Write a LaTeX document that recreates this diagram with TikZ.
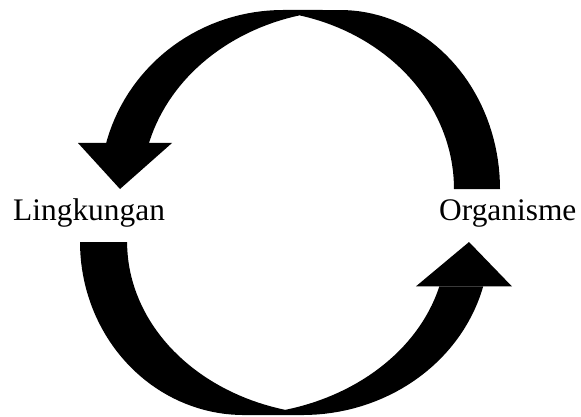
\documentclass[tikz,border=0pt]{standalone}
\usepackage{fontspec}
\setmainfont{Liberation Serif}
\newcommand{\cyclearrowshape}{%
  \begin{scope}
    \clip (-100,-100) -- (700,-100) -- (700,300) -- (290,300) -- (290,143) -- (-100,143) -- cycle;
    \fill[arrowfill] plot[domain=0:-90,samples=40,variable=\t] ({340+160*cos(\t)},{189+179*sin(\t)})
      -- plot[domain=-90:-180,samples=40,variable=\t] ({283+183*cos(\t)},{189+179*sin(\t)})
      -- plot[domain=180:256,samples=40,variable=\t] ({350+208*cos(\t)},{189+179*sin(\t)})
      -- plot[domain=-76:0,samples=40,variable=\t] ({250+204*cos(\t)},{189+179*sin(\t)})
      -- cycle;
  \end{scope}
  \fill[arrowfill] (78,143) -- (172,143) -- (120,189) -- cycle;
}
\begin{document}
\begin{tikzpicture}[x=1pt,y=-1pt,
  arrowfill/.style={fill=black},
  nodetext/.style={font=\fontsize{31.4}{36}\selectfont, inner sep=0pt, anchor=base west}]
\useasboundingbox (0,0) rectangle (581,417);
\cyclearrowshape
\begin{scope}[shift={(591.85,424.7)}, xscale=-1.0237, yscale=-0.9665]
  \cyclearrowshape
\end{scope}
\node[nodetext] (ling) at (13,220) {Lingkungan};
\node[nodetext] (org) at (439,220) {Organisme};
\end{tikzpicture}
\end{document}
